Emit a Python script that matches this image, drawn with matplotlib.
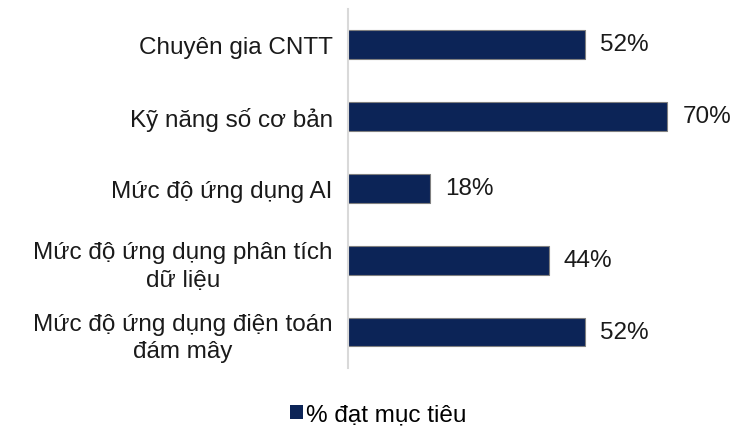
import matplotlib.pyplot as plt
from matplotlib.patches import Patch

plt.rcParams['font.family'] = ['Liberation Sans', 'DejaVu Sans']

categories = [
    "Chuyên gia CNTT",
    "Kỹ năng số cơ bản",
    "Mức độ ứng dụng AI",
    "Mức độ ứng dụng phân tích\ndữ liệu",
    "Mức độ ứng dụng điện toán\nđám mây",
]
values = [52, 70, 18, 44, 52]
series_name = "% đạt mục tiêu"
bar_color = "#0C2457"
font_size = 17.5

fig = plt.figure(figsize=(7.35, 4.31), dpi=100)
ax = fig.add_axes([0.4735, 0.1439, 0.496, 0.834])

y = list(range(len(categories)))
ax.barh(y, values, height=0.4, color=bar_color, edgecolor="#7F7F7F", linewidth=0.8)
ax.set_ylim(len(categories) - 0.5, -0.5)
ax.set_xlim(0, 80)

for yi, v in zip(y, values):
    ax.annotate(f"{v}%", xy=(v, yi), xytext=(11, 0), textcoords="offset points",
                va="center", ha="left", fontsize=font_size, color="#1A1A1A")

ax.set_yticks(y)
ax.set_yticklabels(categories, fontsize=font_size, color="#1A1A1A")
for lbl in ax.get_yticklabels():
    lbl.set_multialignment("center")
    lbl.set_linespacing(1.35)
ax.tick_params(axis="y", length=0, pad=11)
ax.set_xticks([])

for side in ("top", "right", "bottom"):
    ax.spines[side].set_visible(False)
ax.spines["left"].set_color("#D9D9D9")
ax.spines["left"].set_linewidth(1.5)

handle = Patch(facecolor=bar_color, edgecolor="none")
fig.legend([handle], [series_name], loc="center", bbox_to_anchor=(0.515, 0.035),
           frameon=False, fontsize=font_size, handlelength=0.5, handleheight=0.5,
           handletextpad=0.15)

fig.savefig("out.png", dpi=100)
